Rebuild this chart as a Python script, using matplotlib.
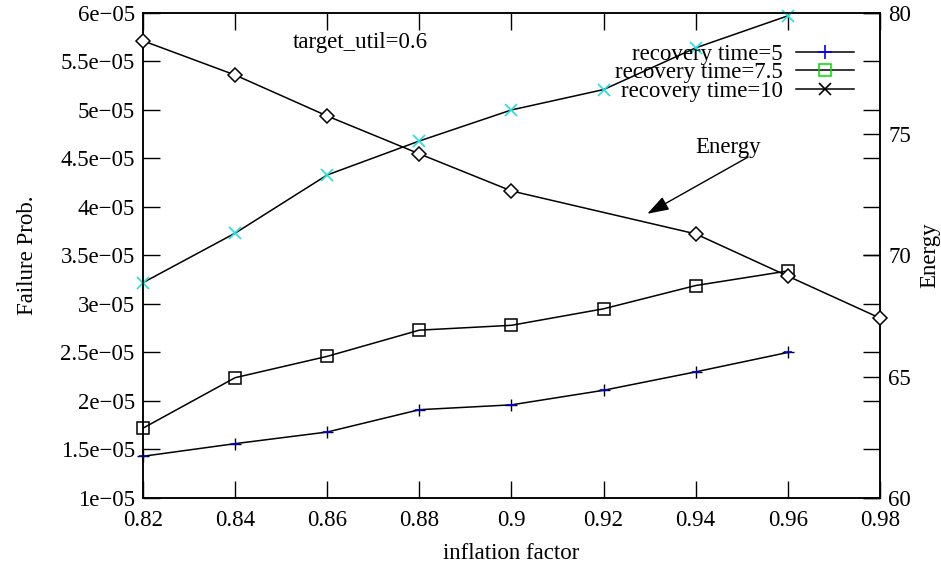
import matplotlib
matplotlib.use("Agg")
from matplotlib import pyplot as plt
from matplotlib.lines import Line2D
from matplotlib.ticker import FuncFormatter, MultipleLocator

plt.rcParams['font.family'] = ['Liberation Serif', 'DejaVu Serif']
plt.rcParams['font.size'] = 16.5

# inflation factor on x, failure probability for three recovery times
inflation = [0.82, 0.84, 0.86, 0.88, 0.90, 0.92, 0.94, 0.96]
fail_rt5 = [1.43e-05, 1.56e-05, 1.68e-05, 1.91e-05, 1.96e-05, 2.11e-05, 2.30e-05, 2.50e-05]
fail_rt75 = [1.72e-05, 2.24e-05, 2.46e-05, 2.73e-05, 2.78e-05, 2.95e-05, 3.19e-05, 3.34e-05]
fail_rt10 = [3.22e-05, 3.73e-05, 4.33e-05, 4.68e-05, 5.00e-05, 5.21e-05, 5.64e-05, 5.97e-05]

# energy on the second y axis
energy_x = [0.82, 0.84, 0.86, 0.88, 0.90, 0.94, 0.96, 0.98]
energy = [78.85, 77.44, 75.75, 74.19, 72.66, 70.89, 69.15, 67.42]

labels = ['recovery time=5', 'recovery time=7.5', 'recovery time=10']


def gfmt(v, pos):
    return ('%g' % v).replace('-', '\u2212')


fig = plt.figure(figsize=(9.41, 5.63), dpi=100)
ax = fig.add_axes([0.152, 0.1155, 0.783, 0.8615])
ax2 = ax.twinx()

lw = 1.1
# failure probability curves
ax.plot(inflation, fail_rt5, color='black', lw=lw, marker='+', ms=9, mew=1.0, zorder=3,
        clip_on=False)
ax.plot(inflation, fail_rt5, ls='none', marker='_', color='blue', ms=6, mew=1.2, zorder=4,
        clip_on=False)
ax.plot(inflation, fail_rt75, color='black', lw=lw, marker='s', ms=9, mfc='none',
        mew=1.1, zorder=3, clip_on=False)
ax.plot(inflation, fail_rt10, color='black', lw=lw, zorder=3, clip_on=False)
ax.plot(inflation, fail_rt10, ls='none', marker='x', color='#22e0e0', ms=8, mew=1.2,
        zorder=4, clip_on=False)

# energy curve
ax2.plot(energy_x, energy, color='black', lw=lw, marker='D', ms=7, mfc='white', mew=1.1,
         zorder=3, clip_on=False)

ax.set_xlim(0.82, 0.98)
ax.set_ylim(1e-05, 6e-05)
ax2.set_ylim(60, 80)

ax.xaxis.set_major_locator(MultipleLocator(0.02))
ax.yaxis.set_major_locator(MultipleLocator(0.5e-05))
ax2.yaxis.set_major_locator(MultipleLocator(5))
ax.xaxis.set_major_formatter(FuncFormatter(gfmt))
ax.yaxis.set_major_formatter(FuncFormatter(gfmt))
ax2.yaxis.set_major_formatter(FuncFormatter(gfmt))

ax.tick_params(direction='in', length=12, width=1, top=True, right=True, pad=6)
ax.tick_params(axis='x', pad=9)
ax2.tick_params(direction='in', length=12, width=1, pad=6)
for a in (ax, ax2):
    for s in a.spines.values():
        s.set_linewidth(1.1)

ax.set_xlabel('inflation factor', labelpad=8)
ax.set_ylabel('Failure Prob.', labelpad=16)
ax2.set_ylabel('Energy', labelpad=6)

ax.text(0.8526, 5.64e-05, 'target_util=0.6', ha='left', va='baseline')
ax.text(0.9399, 4.56e-05, 'Energy', ha='left', va='baseline')
ax.annotate('', xy=(0.9295, 3.93e-05), xytext=(0.9514, 4.515e-05),
            arrowprops=dict(arrowstyle='-|>,head_length=0.6,head_width=0.2',
                            color='black', lw=1.0, mutation_scale=22,
                            shrinkA=0, shrinkB=0))

handles = [
    Line2D([], [], color='black', lw=lw, marker='+', ms=10, mec='blue', mew=1.2),
    Line2D([], [], color='black', lw=lw, marker='s', ms=9, mfc='none', mec='#00dd00',
           mew=1.1),
    Line2D([], [], color='black', lw=lw, marker='x', ms=9, mew=1.2),
]
leg = ax2.legend(handles, labels, loc='upper right', frameon=False, markerfirst=False,
                 handlelength=2.5, handletextpad=0.6, labelspacing=-0.12,
                 borderaxespad=0.0, bbox_to_anchor=(0.977, 0.955))

fig.savefig('out.png', dpi=100)
